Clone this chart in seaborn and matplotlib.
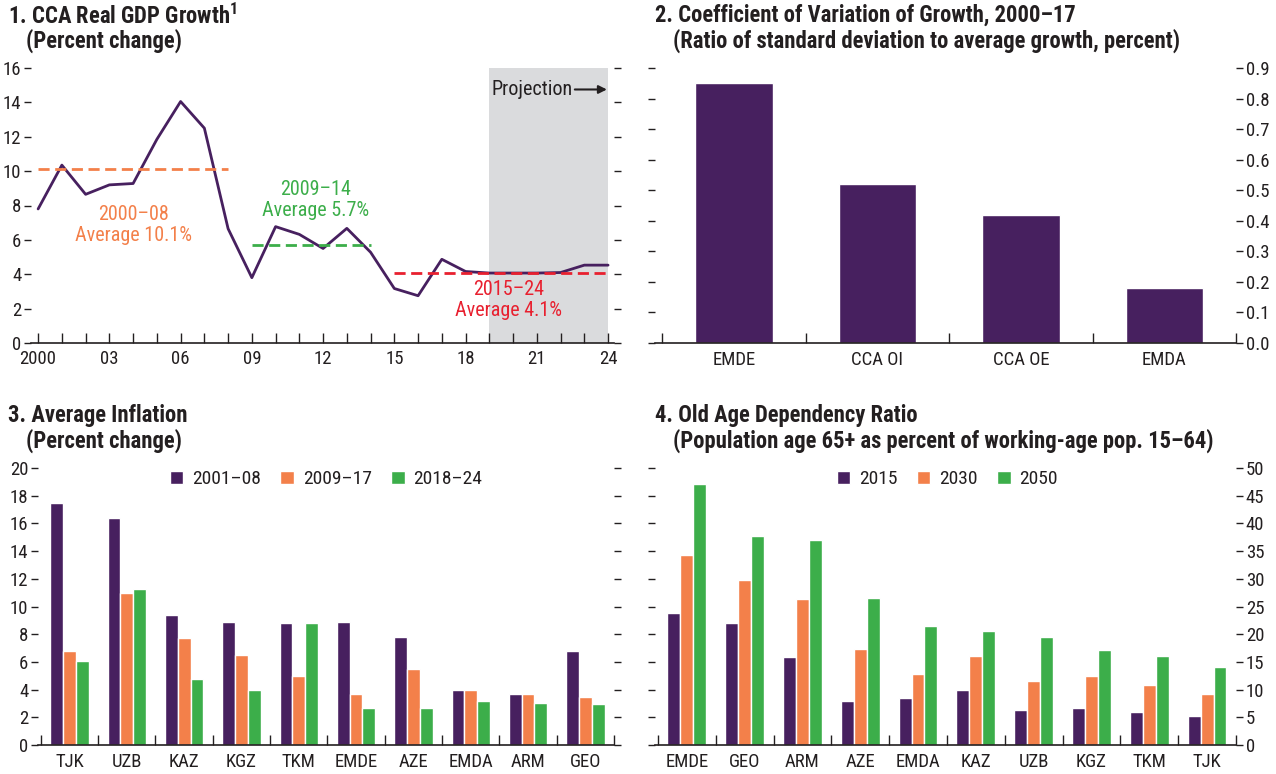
import numpy as np
import pandas as pd
import matplotlib
matplotlib.use('Agg')
import matplotlib.pyplot as plt
import seaborn as sns
from matplotlib.ticker import FixedLocator, NullFormatter

# ---- data ----
years = list(range(2000, 2025))
gdp_growth = [7.8, 10.35, 8.65, 9.2, 9.28, 11.85, 14.05, 12.5, 6.65, 3.8,
              6.77, 6.32, 5.5, 6.67, 5.28, 3.17, 2.75, 4.87, 4.16, 4.07,
              4.07, 4.07, 4.1, 4.53, 4.53]
avg_start = [2000, 2009, 2015]
avg_end = [2008, 2014, 2024]
avg_values = [10.1, 5.7, 4.05]
avg_labels = ['2000–08\nAverage 10.1%', '2009–14\nAverage 5.7%', '2015–24\nAverage 4.1%']
proj_start = 2019

cv_groups = ['EMDE', 'CCA OI', 'CCA OE', 'EMDA']
cv_values = [0.85, 0.52, 0.42, 0.18]

infl_countries = ['TJK', 'UZB', 'KAZ', 'KGZ', 'TKM', 'EMDE', 'AZE', 'EMDA', 'ARM', 'GEO']
infl_periods = ['2001–08', '2009–17', '2018–24']
infl_0108 = [17.5, 16.4, 9.4, 8.9, 8.8, 8.9, 7.8, 4.0, 3.65, 6.8]
infl_0917 = [6.8, 11.0, 7.7, 6.5, 5.0, 3.65, 5.5, 3.95, 3.65, 3.45]
infl_1824 = [6.05, 11.25, 4.75, 4.0, 8.8, 2.65, 2.65, 3.15, 3.0, 2.95]

oadr_countries = ['EMDE', 'GEO', 'ARM', 'AZE', 'EMDA', 'KAZ', 'UZB', 'KGZ', 'TKM', 'TJK']
oadr_years = ['2015', '2030', '2050']
oadr_2015 = [23.8, 22.0, 15.8, 8.0, 8.4, 10.0, 6.4, 6.6, 6.0, 5.3]
oadr_2030 = [34.3, 29.8, 26.3, 17.3, 12.8, 16.0, 11.5, 12.4, 10.8, 9.2]
oadr_2050 = [47.2, 37.7, 37.0, 26.5, 21.5, 20.6, 19.5, 17.2, 16.1, 14.1]

# ---- style ----
purple = '#47205f'
orange = '#f3804a'
green = '#3cae4a'
red = '#e8202f'
grey = '#dadbdd'
txt = '#231f20'

sns.set_style('ticks')
plt.rcParams['font.family'] = ['Roboto Condensed', 'DejaVu Sans']
plt.rcParams['mathtext.fontset'] = 'custom'
plt.rcParams['mathtext.rm'] = 'Roboto Condensed'
plt.rcParams['mathtext.bf'] = 'Roboto Condensed:bold'
plt.rcParams['text.color'] = txt
plt.rcParams['axes.edgecolor'] = txt
plt.rcParams['xtick.color'] = txt
plt.rcParams['ytick.color'] = txt
plt.rcParams['axes.linewidth'] = 1.2

W, H = 1276, 774
fig = plt.figure(figsize=(W / 100, H / 100), dpi=100)


def px_axes(x0, y0, x1, y1):
    return fig.add_axes([x0 / W, 1 - y1 / H, (x1 - x0) / W, (y1 - y0) / H])


def title(x, y, line1, line2, indent=18):
    fig.text(x / W, 1 - y / H, line1, fontsize=16.3, fontweight='bold', va='top', ha='left')
    fig.text((x + indent) / W, 1 - (y + 25) / H, line2, fontsize=16.3, fontweight='bold', va='top', ha='left')


def strip(ax):
    for s in ['top', 'left', 'right']:
        ax.spines[s].set_visible(False)


def both_side_y(ax, ticks, labels_right=False):
    ax.set_yticks(ticks)
    ax.tick_params(axis='y', which='major', direction='out', length=5, width=1,
                   left=True, right=True, labelleft=not labels_right,
                   labelright=labels_right, labelsize=13.5, pad=2)


def category_x(ax, n):
    ax.set_xlim(-0.5, n - 0.5)
    ax.xaxis.set_minor_locator(FixedLocator(np.arange(-0.5, n, 1.0)))
    ax.xaxis.set_minor_formatter(NullFormatter())
    ax.tick_params(axis='x', which='minor', direction='in', length=7, width=1, bottom=True)
    ax.tick_params(axis='x', which='major', length=0, labelsize=13.5, pad=6)
    ax.set_xlabel('')
    ax.set_ylabel('')


def legend(ax, x):
    ax.legend(loc='upper center', bbox_to_anchor=(x, 1.055), ncol=3, frameon=False,
              fontsize=14, handlelength=0.7, handleheight=0.7, handletextpad=0.45,
              columnspacing=1.0)


# ---- panel 1 ----
ax1 = px_axes(31, 68, 614, 343)
gdp_df = pd.DataFrame({'year': years, 'growth': gdp_growth})
ax1.axvspan(proj_start, years[-1], color=grey, lw=0, zorder=0)
sns.lineplot(data=gdp_df, x='year', y='growth', color=purple, lw=2, ax=ax1, zorder=3)
for s, e, v, c in zip(avg_start, avg_end, avg_values, [orange, green, red]):
    ax1.plot([s, e], [v, v], color=c, lw=2, ls=(0, (4, 2)), zorder=4)
ax1.text(2004.0, 6.85, avg_labels[0], color=orange, fontsize=14.5, ha='center', va='center', linespacing=1.15)
ax1.text(2011.7, 8.3, avg_labels[1], color=green, fontsize=14.5, ha='center', va='center', linespacing=1.15)
ax1.text(2019.8, 2.5, avg_labels[2], color=red, fontsize=14.5, ha='center', va='center', linespacing=1.15)
ax1.annotate('', xy=(2023.95, 14.75), xytext=(2022.6, 14.75),
             arrowprops=dict(arrowstyle='-|>', color=txt, lw=1.5, mutation_scale=12,
                             shrinkA=0, shrinkB=0))
ax1.text(2022.5, 14.75, 'Projection', fontsize=14.5, ha='right', va='center')
ax1.set_xlim(1999.7, 2024.25)
ax1.set_ylim(0, 16)
both_side_y(ax1, range(0, 17, 2))
ax1.set_xticks(years[::3])
ax1.set_xticklabels(['2000'] + ['%02d' % (y % 100) for y in years[3::3]])
ax1.xaxis.set_minor_locator(FixedLocator(years))
ax1.tick_params(axis='x', which='both', direction='in', length=7, width=1, labelsize=13.5, pad=5)
ax1.set_xlabel('')
ax1.set_ylabel('')
strip(ax1)
title(8, 4, '1. CCA Real GDP Growth$^{\\mathbf{1}}$', '(Percent change)')

# ---- panel 2 ----
ax2 = px_axes(655, 68, 1236, 343)
cv_df = pd.DataFrame({'group': cv_groups, 'cv': cv_values})
sns.barplot(data=cv_df, x='group', y='cv', color=purple, saturation=1, width=0.54, ax=ax2)
ax2.set_ylim(0, 0.9)
both_side_y(ax2, np.round(np.arange(0, 0.91, 0.1), 1), labels_right=True)
ax2.set_yticklabels(['%.1f' % v for v in np.arange(0, 0.91, 0.1)])
category_x(ax2, len(cv_groups))
ax2.set_xlim(-0.55, 3.5)
strip(ax2)
title(655, 4, '2. Coefficient of Variation of Growth, 2000–17',
      '(Ratio of standard deviation to average growth, percent)')

# ---- panel 3 ----
ax3 = px_axes(38, 468, 614, 745)
infl_df = pd.DataFrame({
    'country': infl_countries * 3,
    'period': np.repeat(infl_periods, len(infl_countries)),
    'value': infl_0108 + infl_0917 + infl_1824,
})
sns.barplot(data=infl_df, x='country', y='value', hue='period', hue_order=infl_periods,
            palette=[purple, orange, green], saturation=1, width=0.67, ax=ax3)
ax3.set_ylim(0, 20)
both_side_y(ax3, range(0, 21, 2))
category_x(ax3, len(infl_countries))
ax3.set_xlim(-0.55, 9.5)
legend(ax3, 0.50)
strip(ax3)
title(8, 404, '3. Average Inflation', '(Percent change)')

# ---- panel 4 ----
ax4 = px_axes(655, 468, 1236, 745)
oadr_df = pd.DataFrame({
    'country': oadr_countries * 3,
    'year': np.repeat(oadr_years, len(oadr_countries)),
    'value': oadr_2015 + oadr_2030 + oadr_2050,
})
sns.barplot(data=oadr_df, x='country', y='value', hue='year', hue_order=oadr_years,
            palette=[purple, orange, green], saturation=1, width=0.67, ax=ax4)
ax4.set_ylim(0, 50)
both_side_y(ax4, range(0, 51, 5), labels_right=True)
category_x(ax4, len(oadr_countries))
ax4.set_xlim(-0.55, 9.5)
legend(ax4, 0.503)
strip(ax4)
title(655, 404, '4. Old Age Dependency Ratio',
      '(Population age 65+ as percent of working-age pop. 15–64)')

fig.savefig('out.png', dpi=100)
